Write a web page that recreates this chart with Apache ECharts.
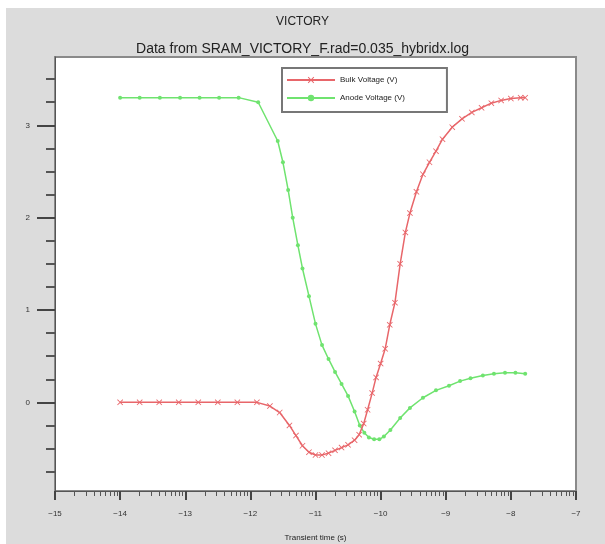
<!DOCTYPE html>
<html>
<head>
<meta charset="utf-8">
<script src="https://cdn.jsdelivr.net/npm/echarts@6/dist/echarts.min.js"></script>
<style>
  html, body { margin: 0; padding: 0; background: #fff; }
  #chart { width: 605px; height: 544px; }
</style>
</head>
<body>
<div id="chart"></div>
<script>
// log10 of transient time (s) and voltages
const bulkTime = [-14, -13.7, -13.4, -13.1, -12.8, -12.5, -12.2, -11.9, -11.7, -11.55, -11.4, -11.3, -11.2, -11.1, -11.0, -10.9, -10.8, -10.7, -10.6, -10.5, -10.4, -10.33, -10.26, -10.2, -10.13, -10.07, -10.0, -9.93, -9.86, -9.78, -9.7, -9.62, -9.55, -9.45, -9.35, -9.25, -9.15, -9.05, -8.9, -8.75, -8.6, -8.45, -8.3, -8.15, -8.0, -7.85, -7.78];
const bulkVoltage = [0, 0, 0, 0, 0, 0, 0, 0, -0.04, -0.11, -0.25, -0.36, -0.47, -0.54, -0.57, -0.57, -0.55, -0.52, -0.49, -0.46, -0.41, -0.35, -0.23, -0.08, 0.10, 0.27, 0.42, 0.58, 0.84, 1.08, 1.50, 1.84, 2.05, 2.28, 2.47, 2.60, 2.72, 2.85, 2.98, 3.07, 3.14, 3.19, 3.24, 3.27, 3.29, 3.30, 3.30];

const anodeTime = [-14, -13.7, -13.39, -13.08, -12.78, -12.48, -12.18, -11.88, -11.58, -11.5, -11.42, -11.35, -11.27, -11.2, -11.1, -11.0, -10.9, -10.8, -10.7, -10.6, -10.5, -10.4, -10.32, -10.25, -10.18, -10.1, -10.02, -9.95, -9.85, -9.7, -9.55, -9.35, -9.15, -8.95, -8.78, -8.62, -8.43, -8.26, -8.09, -7.93, -7.78];
const anodeVoltage = [3.30, 3.30, 3.30, 3.30, 3.30, 3.30, 3.30, 3.25, 2.83, 2.60, 2.30, 2.00, 1.70, 1.45, 1.15, 0.85, 0.62, 0.47, 0.33, 0.20, 0.07, -0.10, -0.25, -0.33, -0.38, -0.40, -0.40, -0.37, -0.30, -0.17, -0.06, 0.05, 0.13, 0.18, 0.23, 0.26, 0.29, 0.31, 0.32, 0.32, 0.31];

const xLabels = [-15, -14, -13, -12, -11, -10, -9, -8, -7];
const yLabels = [0, 1, 2, 3];

// minor ticks: log spacing inside each decade on x, quarters on y
let xMinor = [];
for (let d = -15; d < -7; d++) {
  for (let k = 2; k <= 9; k++) xMinor.push(d + Math.log10(k));
}
let yMinor = [];
for (let v = -0.75; v < 3.74; v += 0.25) {
  if (Math.abs(v - Math.round(v)) > 0.01) yMinor.push(v);
}

const minus = (v) => String(v).replace('-', '\u2212');

let myChart = echarts.init(document.getElementById('chart'));
myChart.setOption({
  animation: false,
  textStyle: { fontFamily: 'Liberation Sans, Arial, sans-serif' },
  graphic: [
    {
      // grey window background
      type: 'rect',
      left: 6,
      top: 8,
      shape: { width: 599, height: 536 },
      style: { fill: '#dcdcdc' },
      z: -10,
    },
  ],
  title: [
    {
      text: 'VICTORY',
      left: 'center',
      top: 11,
      textStyle: { fontSize: 12, fontWeight: 'normal', color: '#222' },
    },
    {
      text: 'Data from SRAM_VICTORY_F.rad=0.035_hybridx.log',
      left: 'center',
      top: 37,
      textStyle: { fontSize: 14, fontWeight: 'normal', color: '#222' },
    },
  ],
  legend: {
    orient: 'vertical',
    left: 282,
    top: 68,
    data: ['Bulk Voltage (V)', 'Anode Voltage (V)'],
    itemWidth: 48,
    itemHeight: 8,
    itemGap: 10,
    backgroundColor: '#fff',
    borderColor: '#777',
    borderWidth: 2,
    padding: [8, 42, 10, 4],
    textStyle: { fontSize: 8, color: '#222' },
  },
  grid: {
    left: 55,
    right: 29,
    top: 57,
    bottom: 53,
    outerBoundsMode: 'none',
    containLabel: false,
    show: true,
    backgroundColor: '#fff',
    borderColor: '#8a8a8a',
    borderWidth: 2,
  },
  xAxis: [
    {
      type: 'value',
      min: -15,
      max: -7,
      interval: 1,
      position: 'bottom',
      name: 'Transient time (s)',
      nameLocation: 'middle',
      nameGap: 43,
      nameTextStyle: { fontSize: 8, color: '#222' },
      axisLine: { show: true, onZero: false, lineStyle: { color: '#555', width: 1 } },
      axisTick: { show: true, length: 9, lineStyle: { color: '#444', width: 2 } },
      axisLabel: { fontSize: 8, color: '#333', margin: 19, formatter: minus },
      splitLine: { show: false },
    },
    {
      type: 'value',
      min: -15,
      max: -7,
      position: 'bottom',
      axisLine: { show: false, onZero: false },
      axisTick: { show: true, length: 5, customValues: xMinor, lineStyle: { color: '#555' } },
      axisLabel: { show: false },
      splitLine: { show: false },
    },
  ],
  yAxis: [
    {
      type: 'value',
      min: -0.96,
      max: 3.74,
      position: 'left',
      axisLine: { show: true, onZero: false, lineStyle: { color: '#555' } },
      axisTick: { show: true, length: 18, customValues: yLabels, lineStyle: { color: '#444', width: 2 } },
      axisLabel: { fontSize: 8, color: '#333', margin: 25, customValues: yLabels, formatter: minus },
      splitLine: { show: false },
    },
    {
      type: 'value',
      min: -0.96,
      max: 3.74,
      position: 'left',
      axisLine: { show: false, onZero: false },
      axisTick: { show: true, length: 9, customValues: yMinor, lineStyle: { color: '#555', width: 2 } },
      axisLabel: { show: false },
      splitLine: { show: false },
    },
  ],
  series: [
    {
      name: 'Bulk Voltage (V)',
      type: 'line',
      data: bulkTime.map((t, i) => [t, bulkVoltage[i]]),
      color: '#e8666a',
      lineStyle: { width: 1.5 },
      symbol: 'path://M0,1L1,0L5,4L9,0L10,1L6,5L10,9L9,10L5,6L1,10L0,9L4,5Z',
      symbolSize: 6,
      z: 3,
    },
    {
      name: 'Anode Voltage (V)',
      type: 'line',
      data: anodeTime.map((t, i) => [t, anodeVoltage[i]]),
      color: '#6fe36f',
      lineStyle: { width: 1.5 },
      symbol: 'circle',
      symbolSize: 4,
      z: 2,
    },
  ],
});
</script>
</body>
</html>
